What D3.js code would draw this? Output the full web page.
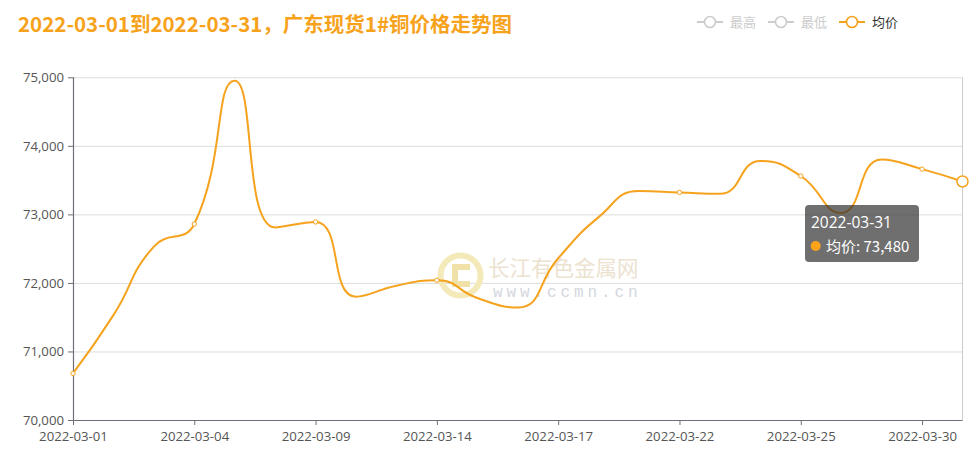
<!DOCTYPE html>
<html><head><meta charset="utf-8">
<script src="https://cdn.jsdelivr.net/npm/d3@7"></script>
<style>body{margin:0;background:#fff} svg{display:block}</style>
</head><body>
<svg id="chart" width="976" height="455"></svg>
<script>
// ---------- data ----------
const titleText = "2022-03-01到2022-03-31，广东现货1#铜价格走势图";
const categories = ["2022-03-01","2022-03-02","2022-03-03","2022-03-04","2022-03-07","2022-03-08",
  "2022-03-09","2022-03-10","2022-03-11","2022-03-14","2022-03-15","2022-03-16","2022-03-17",
  "2022-03-18","2022-03-21","2022-03-22","2022-03-23","2022-03-24","2022-03-25","2022-03-28",
  "2022-03-29","2022-03-30","2022-03-31"];
const avgPrice = [70680,71530,72530,72860,74950,72810,72890,71800,71960,72040,71780,71640,72360,
  72960,73340,73320,73300,73780,73560,73020,73800,73660,73480];
const legendNames = ["最高","最低","均价"];
const legendActive = [false,false,true];
const yTicks = [70000,71000,72000,73000,74000,75000];
const labelEvery = 3;
const markerIdx = [0,3,6,9,15,18,21];
const hoverIndex = 22;
const seriesName = "均价";
const watermarkName = "长江有色金属网";
const watermarkUrl = "www.ccmn.cn";

(function(){
// ---------- setup ----------
const orange = "#f5a21d";
const svg = d3.select("#chart");
const gLeft = 73, gRight = 962.5, gTop = 77.3, gBottom = 420;
const x = d3.scalePoint().domain(categories).range([gLeft, gRight]).padding(0);
const y = d3.scaleLinear().domain([70000, 75000]).range([gBottom, gTop]);
const fmt = d3.format(",");

// echarts-like smooth curve (control points clipped between neighbours)
function curveEcharts(smooth){
  function C(ctx){this._ctx=ctx;}
  C.prototype = {
    areaStart(){}, areaEnd(){},
    lineStart(){this._p=[];},
    point(a,b){this._p.push([+a,+b]);},
    lineEnd(){
      const p=this._p, ctx=this._ctx, n=p.length;
      if(!n) return;
      let px=p[0][0], py=p[0][1]; ctx.moveTo(px,py);
      let cpx0=px, cpy0=py;
      for(let i=1;i<n;i++){
        const X=p[i][0], Y=p[i][1];
        let cpx1, cpy1, ncx=X, ncy=Y;
        if(i===n-1){cpx1=X;cpy1=Y;}
        else{
          const nx=p[i+1][0], ny=p[i+1][1];
          let vx=nx-px, vy=ny-py;
          const l0=Math.hypot(X-px,Y-py), l1=Math.hypot(nx-X,ny-Y);
          const r=l1/(l0+l1);
          ncx=X+vx*smooth*r; ncy=Y+vy*smooth*r;
          ncx=Math.min(ncx,Math.max(nx,X)); ncy=Math.min(ncy,Math.max(ny,Y));
          ncx=Math.max(ncx,Math.min(nx,X)); ncy=Math.max(ncy,Math.min(ny,Y));
          vx=ncx-X; vy=ncy-Y;
          cpx1=X-vx*l0/l1; cpy1=Y-vy*l0/l1;
          cpx1=Math.min(cpx1,Math.max(px,X)); cpy1=Math.min(cpy1,Math.max(py,Y));
          cpx1=Math.max(cpx1,Math.min(px,X)); cpy1=Math.max(cpy1,Math.min(py,Y));
          vx=X-cpx1; vy=Y-cpy1;
          ncx=X+vx*l1/l0; ncy=Y+vy*l1/l0;
        }
        ctx.bezierCurveTo(cpx0,cpy0,cpx1,cpy1,X,Y);
        cpx0=ncx; cpy0=ncy; px=X; py=Y;
      }
    }
  };
  return ctx=>new C(ctx);
}

// ---------- title ----------
svg.append("text").attr("x",18).attr("y",32)
  .attr("font-family","'Noto Sans CJK SC','Noto Sans',sans-serif")
  .attr("font-weight","bold").attr("font-size",20.5).attr("fill","#f7a21b")
  .text(titleText);

// ---------- legend ----------
const legendX = [697, 768, 839];
legendNames.forEach((nm,i)=>{
  const c = legendActive[i] ? orange : "#cccccc";
  const g = svg.append("g").attr("transform",`translate(${legendX[i]},22)`);
  g.append("line").attr("x1",0).attr("x2",26).attr("y1",0).attr("y2",0)
    .attr("stroke",c).attr("stroke-width",2);
  g.append("circle").attr("cx",13).attr("cy",0).attr("r",5.5)
    .attr("fill","#fff").attr("stroke",c).attr("stroke-width",1.6);
  g.append("text").attr("x",33).attr("y",0).attr("dy","0.36em")
    .attr("font-family","'Noto Sans CJK SC',sans-serif").attr("font-size",13)
    .attr("fill", legendActive[i] ? "#333" : "#cccccc").text(nm);
});

// ---------- grid ----------
svg.append("g").selectAll("line").data(yTicks.filter(v=>v!==70000)).join("line")
  .attr("x1",gLeft).attr("x2",gRight).attr("y1",d=>y(d)+0.5).attr("y2",d=>y(d)+0.5)
  .attr("stroke","#dcdcdc").attr("stroke-width",1);

// ---------- watermark ----------
const wm = svg.append("g");
wm.append("circle").attr("cx",460.5).attr("cy",275.5).attr("r",20)
  .attr("fill","none").attr("stroke","#f4e9b8").attr("stroke-width",6);
wm.append("path")
  .attr("d","M470,264 L452,264 L452,287 L470,287 L470,281 L458,281 L458,270 L470,270 Z")
  .attr("fill","#efe1a8");
wm.append("text").attr("x",488).attr("y",276)
  .attr("font-family","'Noto Sans CJK SC',sans-serif").attr("font-size",21.5)
  .attr("fill","#ece2d0").text(watermarkName);
wm.append("text").attr("x",493).attr("y",297)
  .attr("font-family","'Liberation Mono',monospace").attr("font-size",16)
  .attr("letter-spacing",3.9).attr("fill","#d3d7de").text(watermarkUrl);

// ---------- axes ----------
const yAxis = svg.append("g").attr("transform",`translate(${gLeft},0)`)
  .call(d3.axisLeft(y).tickValues(yTicks).tickSize(5).tickPadding(4).tickFormat(fmt));
const xAxis = svg.append("g").attr("transform",`translate(0,${gBottom})`)
  .call(d3.axisBottom(x).tickValues(categories.filter((d,i)=>i%labelEvery===0))
    .tickSize(5).tickPadding(5));
[yAxis,xAxis].forEach(a=>{
  a.select(".domain").attr("stroke","#6e7079").attr("stroke-width",1.2);
  a.selectAll(".tick line").attr("stroke","#6e7079");
  a.selectAll("text").attr("fill","#555").attr("font-size",13.2)
    .attr("font-family","'Open Sans',sans-serif");
});
xAxis.selectAll("text").attr("dy","0.8em");
xAxis.select(".domain").attr("d",`M${gLeft},0.5H${gRight}`);
yAxis.select(".domain").attr("d",`M0.5,${gBottom}V${gTop}`);

// axis pointer
svg.append("line").attr("x1",x(categories[hoverIndex])).attr("x2",x(categories[hoverIndex]))
  .attr("y1",gTop).attr("y2",gBottom).attr("stroke","#cccccc").attr("stroke-width",1);

// ---------- line ----------
const line = d3.line().x((d,i)=>x(categories[i])).y(d=>y(d)).curve(curveEcharts(0.5));
svg.append("path").datum(avgPrice).attr("d",line)
  .attr("fill","none").attr("stroke",orange).attr("stroke-width",2);

svg.append("g").selectAll("circle").data(markerIdx).join("circle")
  .attr("cx",i=>x(categories[i])).attr("cy",i=>y(avgPrice[i])).attr("r",2.2)
  .attr("fill","#fff").attr("stroke",orange).attr("stroke-width",1);

svg.append("circle").attr("cx",x(categories[hoverIndex])).attr("cy",y(avgPrice[hoverIndex]))
  .attr("r",5.5).attr("fill","#fff").attr("stroke",orange).attr("stroke-width",1.5);

// ---------- tooltip ----------
const tt = svg.append("g").attr("transform","translate(805,205)");
tt.append("rect").attr("width",114).attr("height",57).attr("rx",4)
  .attr("fill","rgba(50,50,50,0.7)");
tt.append("text").attr("x",6).attr("y",23).attr("fill","#fff")
  .attr("font-family","'Open Sans',sans-serif").attr("font-size",15.5)
  .text(categories[hoverIndex]);
tt.append("circle").attr("cx",10.7).attr("cy",41).attr("r",5).attr("fill","#ffa31a");
tt.append("text").attr("x",21).attr("y",46.5).attr("fill","#fff")
  .attr("font-family","'Noto Sans CJK SC',sans-serif").attr("font-size",15)
  .text(seriesName + ": " + fmt(avgPrice[hoverIndex]));
})();
</script>
</body></html>
